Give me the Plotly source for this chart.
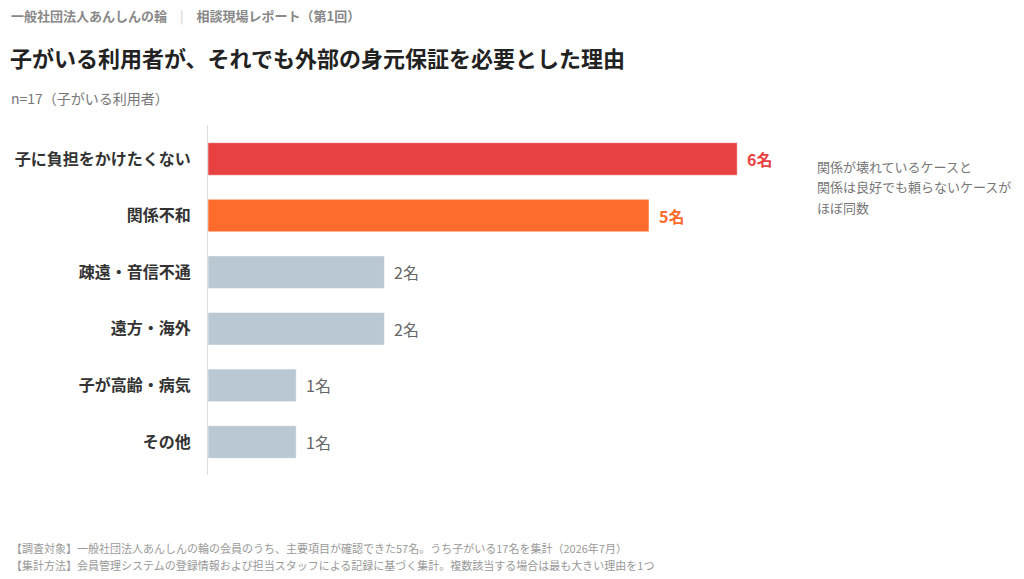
import plotly.graph_objects as go

# data
categories = ["子に負担をかけたくない", "関係不和", "疎遠・音信不通", "遠方・海外", "子が高齢・病気", "その他"]
counts = [6, 5, 2, 2, 1, 1]
bar_colors = ["#E84142", "#FF6B2C", "#BAC8D3", "#BAC8D3", "#BAC8D3", "#BAC8D3"]
label_colors = ["#E84142", "#FF6B2C", "#666666", "#666666", "#666666", "#666666"]
label_bold = [True, True, False, False, False, False]
note_lines = ["関係が壊れているケースと", "関係は良好でも頼らないケースが", "ほぼ同数"]

FONT = "Noto Sans CJK JP"

fig = go.Figure()
fig.add_trace(go.Bar(
    x=counts,
    y=categories,
    orientation="h",
    width=0.575,
    marker=dict(color=bar_colors, line=dict(color="white", width=0.5)),
    hoverinfo="skip",
))

# value labels at the end of each bar
for cat, n, col, b in zip(categories, counts, label_colors, label_bold):
    txt = f"{n}名"
    if b:
        txt = f"<b>{txt}</b>"
    fig.add_annotation(
        x=n, y=cat, xref="x", yref="y",
        text=txt, showarrow=False,
        xanchor="left", xshift=8,
        font=dict(family=FONT, size=16, color=col),
    )

# layout helpers: plot area is 208..808 px wide, 125..475 px tall
L, R, T, B = 208, 216, 125, 104
W, H = 1024, 579
pw, ph = W - L - R, H - T - B


def px(x):
    return (x - L) / pw


def py(y):
    return (H - B - y) / ph


header = ("<b>一般社団法人あんしんの輪</b>"
          "<span style='color:#cccccc'>　|　</span>"
          "<b>相談現場レポート（第1回）</b>")
fig.add_annotation(x=px(9), y=py(15), xref="paper", yref="paper", text=header,
                   showarrow=False, xanchor="left", yanchor="middle",
                   font=dict(family=FONT, size=13, color="#888888"))
fig.add_annotation(x=px(8), y=py(57), xref="paper", yref="paper",
                   text="<b>子がいる利用者が、それでも外部の身元保証を必要とした理由</b>",
                   showarrow=False, xanchor="left", yanchor="middle",
                   font=dict(family=FONT, size=22, color="#222222"))
fig.add_annotation(x=px(9), y=py(98), xref="paper", yref="paper",
                   text="n=17（子がいる利用者）",
                   showarrow=False, xanchor="left", yanchor="middle",
                   font=dict(family=FONT, size=14, color="#777777"))

for i, line in enumerate(note_lines):
    fig.add_annotation(x=px(815), y=py(166 + 20.5 * i), xref="paper", yref="paper",
                       text=line, showarrow=False, xanchor="left", yanchor="middle",
                       font=dict(family=FONT, size=13, color="#777777"))

notes = ["【調査対象】一般社団法人あんしんの輪の会員のうち、主要項目が確認できた57名。うち子がいる17名を集計（2026年7月）",
         "【集計方法】会員管理システムの登録情報および担当スタッフによる記録に基づく集計。複数該当する場合は最も大きい理由を1つ"]
for i, line in enumerate(notes):
    fig.add_annotation(x=px(9), y=py(548 + 17 * i), xref="paper", yref="paper", text=line,
                       showarrow=False, xanchor="left", yanchor="middle",
                       font=dict(family=FONT, size=11, color="#999999"))

fig.update_layout(
    width=W, height=H,
    margin=dict(l=L, r=R, t=T, b=B),
    paper_bgcolor="white", plot_bgcolor="white",
    showlegend=False,
    font=dict(family=FONT, color="#333333"),
    xaxis=dict(range=[0, pw / 88.2], visible=False, fixedrange=True),
    yaxis=dict(
        range=[5.583, -0.6],
        tickvals=categories,
        ticktext=[f"<b>{c}</b>" for c in categories],
        tickfont=dict(family=FONT, size=16, color="#333333"),
        ticks="", ticklabelstandoff=13,
        showline=True, linecolor="#dddddd", linewidth=1,
        showgrid=False, zeroline=False, fixedrange=True,
    ),
)

fig.write_html("out.html", config={"displayModeBar": False},
               post_script="document.body.style.margin='0';")
